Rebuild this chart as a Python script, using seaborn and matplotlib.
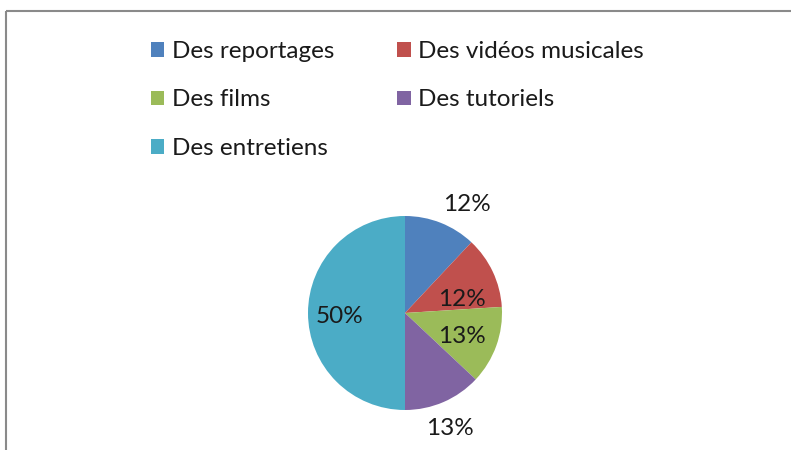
import matplotlib
matplotlib.use("Agg")
import matplotlib.pyplot as plt
import numpy as np
import seaborn as sns
from matplotlib.lines import Line2D

categories = ["Des reportages", "Des vidéos musicales", "Des films", "Des tutoriels", "Des entretiens"]
shares = [12, 12, 13, 13, 50]
pct_labels = ["12%", "12%", "13%", "13%", "50%"]

colors = ["#4F81BD", "#C0504D", "#9BBB59", "#8064A2", "#4BACC6"]
# Excel "best fit" label placement: distance (x radius) and angle nudge (deg)
label_dist = [1.30, 0.605, 0.627, 1.26, 0.67]
label_turn = [-7.6, -9.4, -1.4, -1.9, 0.9]


def main():
    sns.set_theme(style="white")
    plt.rcParams["font.family"] = ["Lato", "DejaVu Sans"]

    W, H = 791, 450
    fig = plt.figure(figsize=(W / 100, H / 100), dpi=100)
    ax = fig.add_axes([0, 0, 1, 1])

    cx, cy, r = 405, H - 313, 97
    wedges, _ = ax.pie(
        shares,
        colors=sns.color_palette(colors),
        startangle=90,
        counterclock=False,
        center=(cx, cy),
        radius=r,
        frame=True,
        wedgeprops=dict(linewidth=0),
    )
    ax.set_xlim(0, W)
    ax.set_ylim(0, H)
    ax.set_axis_off()

    for w, lab, d, t in zip(wedges, pct_labels, label_dist, label_turn):
        mid = np.deg2rad((w.theta1 + w.theta2) / 2 + t)
        ax.text(cx + d * r * np.cos(mid), cy + d * r * np.sin(mid) - 2, lab,
                ha="center", va="center", fontsize=17.5, color="#1a1a1a")

    order = [0, 2, 4, 1, 3]
    leg = ax.legend([wedges[i] for i in order], [categories[i] for i in order],
                    ncol=2, loc="upper left", bbox_to_anchor=(151 / W, 1 - 41 / H),
                    bbox_transform=fig.transFigure, frameon=False,
                    fontsize=17.5, handlelength=0.55, handleheight=0.55,
                    handletextpad=0.3, columnspacing=2.6, labelspacing=1.13,
                    borderaxespad=0, borderpad=0)
    for t in leg.get_texts():
        t.set_color("#1a1a1a")

    border = "#8a8a8a"
    fig.add_artist(Line2D([6.5 / W, 6.5 / W], [0, 1 - 10.5 / H], color=border, lw=1.5,
                          transform=fig.transFigure, solid_capstyle="butt"))
    fig.add_artist(Line2D([5.5 / W, 1], [1 - 10.5 / H, 1 - 10.5 / H], color=border, lw=1.5,
                          transform=fig.transFigure, solid_capstyle="butt"))

    fig.savefig("out.png", dpi=100, facecolor="white")


if __name__ == "__main__":
    main()
